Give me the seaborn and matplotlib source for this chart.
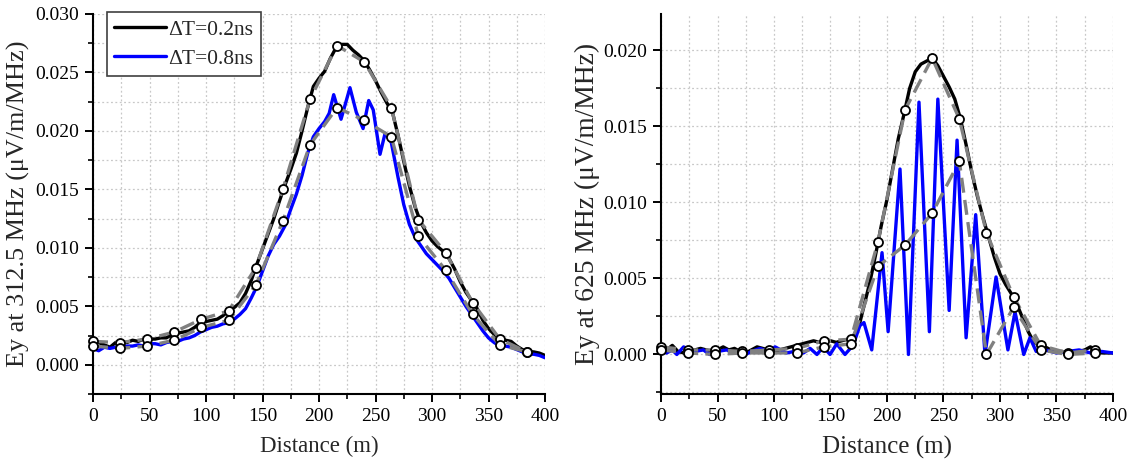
import numpy as np
import pandas as pd
import matplotlib
matplotlib.use("Agg")
import matplotlib.pyplot as plt
import seaborn as sns
from matplotlib.ticker import MultipleLocator, FormatStrFormatter

# ---------------- data ----------------
x_fine = [0, 5, 10, 15, 20, 25, 30, 35, 40, 45, 50, 55, 60, 65, 70, 75, 80, 85, 90, 95,
          100, 105, 110, 115, 120, 125, 130, 135, 140, 145, 150, 155, 160, 165, 170, 175,
          180, 185, 190, 195, 200, 205, 210, 215, 220, 225, 230, 235, 240, 245, 250, 255,
          260, 265, 270, 275, 280, 285, 290, 295, 300, 305, 310, 315, 320, 325, 330, 335,
          340, 345, 350, 355, 360, 365, 370, 375, 380, 385, 390, 395, 400]

# left panel (312.5 MHz)
black_left = [0.0020, 0.0019, 0.0017, 0.0015, 0.0019, 0.0020, 0.0019, 0.0021, 0.0020, 0.0022,
              0.0022, 0.0022, 0.0023, 0.0023, 0.0026, 0.0027, 0.0028, 0.0029, 0.0032, 0.0036,
              0.0037, 0.0038, 0.0039, 0.0042, 0.0046, 0.0049, 0.0053, 0.0061, 0.0072, 0.0086,
              0.0099, 0.0112, 0.0125, 0.0140, 0.0154, 0.0167, 0.0181, 0.0200, 0.0220, 0.0238,
              0.0245, 0.0251, 0.0262, 0.0271, 0.0274, 0.0274, 0.0269, 0.0265, 0.0260, 0.0252,
              0.0243, 0.0233, 0.0224, 0.0216, 0.0196, 0.0174, 0.0153, 0.0135, 0.0122, 0.0113,
              0.0106, 0.0101, 0.0097, 0.0091, 0.0082, 0.0071, 0.0062, 0.0055, 0.0048, 0.0038,
              0.0031, 0.0026, 0.0022, 0.0021, 0.0020, 0.0016, 0.0013, 0.0011, 0.0011, 0.0010,
              0.0008]

blue_left_x = [0, 5, 10, 15, 20, 25, 30, 35, 40, 45, 50, 55, 60, 65, 70, 75, 80, 85, 90, 95,
               100, 105, 110, 115, 120, 125, 130, 135, 140, 145, 150, 155, 160, 165, 170, 175,
               180, 185, 190, 195, 200, 205, 209, 213, 219.5, 227.4, 233, 239, 244, 248, 254,
               258.5, 264, 270, 275, 280, 285, 290, 295, 300, 305, 310, 315, 320, 325, 330,
               335, 340, 345, 350, 355, 360, 365, 370, 375, 380, 385, 390, 395, 400]
blue_left = [0.0014, 0.0012, 0.0015, 0.0014, 0.0015, 0.0014, 0.0016, 0.0016, 0.0017, 0.0016,
             0.0018, 0.0018, 0.0017, 0.0019, 0.0020, 0.0020, 0.0022, 0.0023, 0.0025, 0.0028,
             0.0030, 0.0032, 0.0033, 0.0035, 0.0036, 0.0039, 0.0043, 0.0048, 0.0057, 0.0067,
             0.0080, 0.0093, 0.0103, 0.0110, 0.0119, 0.0133, 0.0146, 0.0162, 0.0181, 0.0195,
             0.0202, 0.0208, 0.0215, 0.0231, 0.0210, 0.0237, 0.0216, 0.0202, 0.0226, 0.0218,
             0.0180, 0.0198, 0.0190, 0.0160, 0.0137, 0.0120, 0.0109, 0.0102, 0.0095, 0.0090,
             0.0085, 0.0080, 0.0074, 0.0066, 0.0058, 0.0050, 0.0043, 0.0036, 0.0029, 0.0023,
             0.0019, 0.0016, 0.0016, 0.0015, 0.0013, 0.0011, 0.0009, 0.0009, 0.0008, 0.0006]

x_coarse = [0, 24, 48, 72, 96, 120, 144, 168, 192, 216, 240, 264, 288, 312, 336, 360, 384]
gray_upper_left = [0.0020, 0.0019, 0.0022, 0.0028, 0.0039, 0.0046, 0.0083, 0.0150, 0.0227,
                   0.0273, 0.0259, 0.0220, 0.0124, 0.0096, 0.0053, 0.0022, 0.0011]
gray_lower_left = [0.0016, 0.0014, 0.0016, 0.0021, 0.0032, 0.0038, 0.0068, 0.0123, 0.0188,
                   0.0220, 0.0209, 0.0195, 0.0110, 0.0081, 0.0043, 0.0017, 0.0011]

# right panel (625 MHz)
black_right = [0.0005, 0.0003, 0.0006, 0.0002, 0.0001, 0.0002, 0.0003, 0.0004, 0.0003, 0.0002,
               0.0003, 0.0005, 0.0003, 0.0004, 0.0002, 0.0001, 0.0003, 0.0005, 0.0004, 0.0003,
               0.0002, 0.0003, 0.0004, 0.0005, 0.0006, 0.0007, 0.0008, 0.0009, 0.0008, 0.0010,
               0.0009, 0.0008, 0.0009, 0.0010, 0.0012, 0.0018, 0.0033, 0.0048, 0.0066, 0.0085,
               0.0102, 0.0122, 0.0142, 0.0158, 0.0175, 0.0186, 0.0191, 0.0193, 0.0195, 0.0190,
               0.0183, 0.0176, 0.0168, 0.0155, 0.0138, 0.0120, 0.0104, 0.0090, 0.0077, 0.0064,
               0.0053, 0.0046, 0.0040, 0.0033, 0.0024, 0.0015, 0.0008, 0.0006, 0.0005, 0.0003,
               0.0002, 0.0002, 0.0001, 0.0002, 0.0002, 0.0003, 0.0005, 0.0003, 0.0001, 0.0001,
               0.0001]

blue_right_x = [0, 5, 10, 14, 20, 25, 30, 37.5, 43, 50, 58, 65, 75, 80, 87.6, 95, 101, 111,
                118, 126, 132, 138, 143.6, 149.6, 155.5, 162.8, 170, 176, 179.6, 186.5, 195.6,
                201, 211.5, 219, 228.3, 237.5, 245, 255, 262, 270, 278.5, 286.7, 296.5, 307,
                313.3, 321, 326.5, 332, 340, 350, 360, 370, 380, 390, 400]
blue_right = [0.0002, 0.0001, 0.0003, 0.0000, 0.0005, 0.0003, 0.0002, 0.0003, 0.0000, 0.0002,
              0.0003, 0.0001, 0.0000, 0.0002, 0.0004, 0.0002, 0.0005, 0.0001, 0.0002, 0.0001,
              0.0004, 0.0000, 0.0005, 0.0000, 0.0007, 0.0000, 0.0006, 0.0019, 0.0021, 0.0003,
              0.0067, 0.0015, 0.0122, 0.0000, 0.0166, 0.0015, 0.0168, 0.0029, 0.0141, 0.0011,
              0.0092, 0.0000, 0.0051, 0.0003, 0.0028, 0.0000, 0.0011, 0.0002, 0.0003, 0.0001,
              0.0002, 0.0003, 0.0001, 0.0002, 0.0001]

gray_upper_right = [0.0005, 0.0003, 0.0003, 0.0002, 0.0003, 0.0004, 0.0009, 0.0010, 0.0074,
                    0.0161, 0.0195, 0.0155, 0.0080, 0.0038, 0.0006, 0.0001, 0.0003]
gray_lower_right = [0.0003, 0.0001, 0.0000, 0.0001, 0.0001, 0.0001, 0.0005, 0.0007, 0.0058,
                    0.0072, 0.0093, 0.0127, 0.0000, 0.0031, 0.0003, 0.0000, 0.0001]

labels = ["\u0394T=0.2ns", "\u0394T=0.8ns"]
xlabel = "Distance (m)"
ylabels = ["Ey at 312.5 MHz (\u03bcV/m/MHz)", "Ey at 625 MHz (\u03bcV/m/MHz)"]

# ---------------- style ----------------
sns.set_theme(style="ticks")
plt.rcParams["font.family"] = ["Liberation Serif", "DejaVu Serif"]
plt.rcParams["mathtext.fontset"] = "stix"

fig = plt.figure(figsize=(11.35, 4.73), dpi=100)
axL = fig.add_axes([93 / 1135, 1 - 394 / 473, 452 / 1135, 380 / 473])
axR = fig.add_axes([661 / 1135, 1 - 394 / 473, 452 / 1135, 380 / 473])

BLUE = "#0000ff"
GRAY = "#808080"


def draw(ax, bx, by, blx, bly, gu, gl, ylim, ymaj, ylabel, xlab_fs, ylab_fs, ylab_pad, legend):
    sns.lineplot(x=bx, y=by, ax=ax, color="black", lw=2.4, estimator=None, sort=False,
                 label=labels[0] if legend else None, zorder=3, solid_joinstyle="round")
    sns.lineplot(x=blx, y=bly, ax=ax, color=BLUE, lw=2.4, estimator=None, sort=False,
                 label=labels[1] if legend else None, zorder=3, solid_joinstyle="round")
    for g in (gu, gl):
        sns.lineplot(x=x_coarse, y=g, ax=ax, color=GRAY, lw=2.4, estimator=None, sort=False,
                     linestyle=(0, (4.5, 2.2)), zorder=4)
        sns.scatterplot(x=x_coarse, y=g, ax=ax, color="white", edgecolor="black", s=42,
                        linewidth=1.3, zorder=6, clip_on=False)
    ax.set_xlim(0, 400)
    ax.set_ylim(*ylim)
    ax.xaxis.set_major_locator(MultipleLocator(50))
    ax.xaxis.set_minor_locator(MultipleLocator(25))
    ax.yaxis.set_major_locator(MultipleLocator(ymaj))
    ax.yaxis.set_minor_locator(MultipleLocator(ymaj / 2))
    ax.yaxis.set_major_formatter(FormatStrFormatter("%.3f"))
    ax.grid(True, which="both", color="#c8c8c8", linestyle=(0, (1.5, 2)), lw=0.9)
    ax.set_axisbelow(True)
    for s in ("top", "right"):
        ax.spines[s].set_visible(False)
    for s in ("left", "bottom"):
        ax.spines[s].set_linewidth(1.5)
        ax.spines[s].set_color("black")
    ax.tick_params(which="major", direction="out", length=6, width=1.4, labelsize=14,
                   colors="black", pad=4)
    ax.tick_params(which="minor", direction="out", length=3.5, width=1.2, colors="black")
    ax.set_xlabel(xlabel, fontsize=xlab_fs, labelpad=8)
    ax.set_ylabel(ylabel, fontsize=ylab_fs, labelpad=ylab_pad)
    ax.set_facecolor("white")
    if legend:
        leg = ax.legend(loc="upper left", bbox_to_anchor=(0.03, 1.005), fontsize=15.5,
                        handlelength=2.4, handletextpad=0.1, borderpad=0.35,
                        labelspacing=0.42, borderaxespad=0.0, fancybox=False,
                        framealpha=1, edgecolor="#404040")
        leg.get_frame().set_linewidth(1.2)
    else:
        lg = ax.get_legend()
        if lg is not None:
            lg.remove()


draw(axL, x_fine, black_left, blue_left_x, blue_left, gray_upper_left, gray_lower_left,
     (-0.0025, 0.030), 0.005, ylabels[0], 16.5, 18.8, 4, True)
draw(axR, x_fine, black_right, blue_right_x, blue_right, gray_upper_right, gray_lower_right,
     (-0.0026, 0.0224), 0.005, ylabels[1], 18, 19.8, 2, False)

fig.savefig("out.png", dpi=100, facecolor="white")
